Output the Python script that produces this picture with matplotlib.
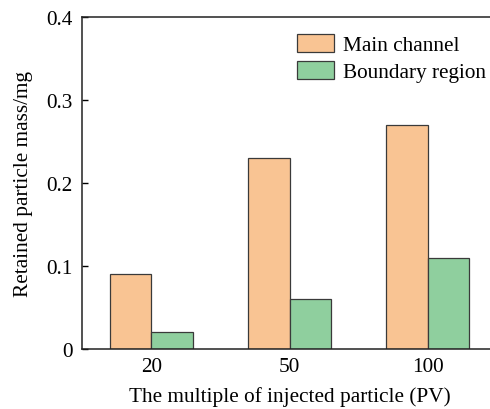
import matplotlib
matplotlib.use("Agg")
import matplotlib.pyplot as plt
import numpy as np

categories = ["20", "50", "100"]
main_channel = [0.09, 0.23, 0.27]
boundary_region = [0.02, 0.06, 0.11]
series_labels = ["Main channel", "Boundary region"]
yticks = [0, 0.1, 0.2, 0.3, 0.4]
ytick_labels = ["0", "0.1", "0.2", "0.3", "0.4"]

plt.rcParams['font.family'] = ['Liberation Serif', 'DejaVu Serif']
fs = 15.3

fig = plt.figure(figsize=(4.9, 4.1), dpi=100)
ax = fig.add_axes([82/490, 1 - 350/410, (497 - 82)/490, (350 - 18)/410])

x = np.arange(len(categories))
w = 0.3
ax.bar(x - w/2, main_channel, w, color="#F9C493", edgecolor="#3a3a3a", linewidth=0.9, label=series_labels[0])
ax.bar(x + w/2, boundary_region, w, color="#8FCF9E", edgecolor="#3a3a3a", linewidth=0.9, label=series_labels[1])

ax.set_xlim(-0.5, 2.5)
ax.set_ylim(0, 0.4)
ax.set_xticks(x)
ax.set_xticklabels(categories, fontsize=fs)
ax.set_yticks(yticks)
ax.set_yticklabels(ytick_labels, fontsize=fs)
ax.tick_params(axis='x', length=0, pad=6)
ax.tick_params(axis='y', direction='in', length=4, width=1, pad=7)
for s in ['left', 'bottom', 'top']:
    ax.spines[s].set_linewidth(1.1)
    ax.spines[s].set_color('#222222')
ax.spines['right'].set_visible(False)

ax.set_xlabel("The multiple of injected particle (PV)", fontsize=fs, labelpad=7)
ax.set_ylabel("Retained particle mass/mg", fontsize=fs, labelpad=9)

leg = ax.legend(loc='upper right', bbox_to_anchor=(494.6/490, 1 - 26.4/410),
                bbox_transform=fig.transFigure, frameon=False, fontsize=fs,
                handlelength=1.75, handleheight=0.95, labelspacing=0.25, handletextpad=0.42,
                borderaxespad=0.0)

fig.savefig("out.png", dpi=100)
